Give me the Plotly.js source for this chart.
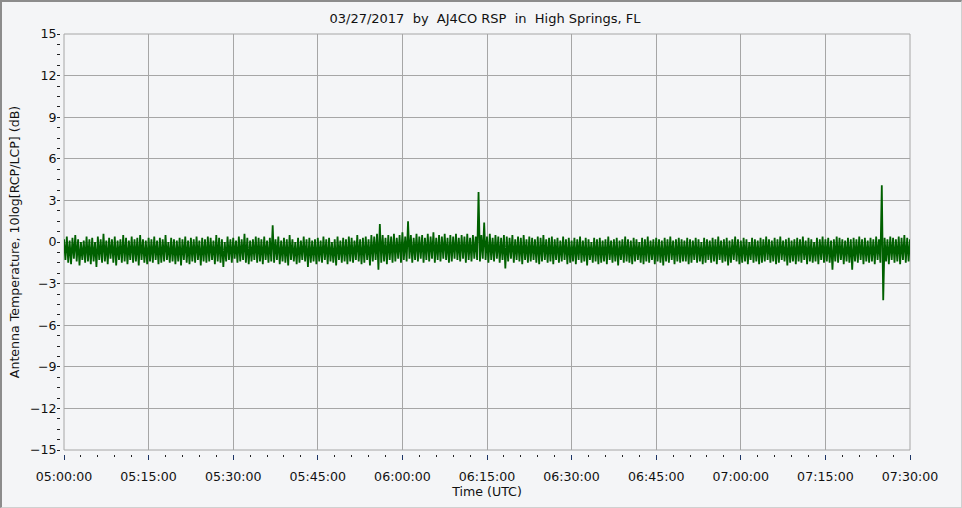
<!DOCTYPE html>
<html><head><meta charset="utf-8">
<script src="https://cdn.plot.ly/plotly-3.0.1.min.js"></script>
<style>
html,body{margin:0;padding:0;background:#f4f5f7;overflow:hidden}
#chart{width:962px;height:508px}
#frame{position:absolute;left:0;top:0;width:962px;height:508px;box-sizing:border-box;border-top:2px solid #8c8c8c;border-left:2px solid #8c8c8c;border-right:1px solid #d0d0d0;border-bottom:1px solid #d0d0d0;pointer-events:none}
</style>
</head><body><div id="chart"></div><div id="frame"></div>
<script>
// Series: antenna temperature ratio (dB), one sample every 15 s from 05:00:00 UTC
const startTime = "2017-03-27 05:00:00";
const stepSeconds = 15;
const values = [
  0.2,-1.3,0.4,-1.5,0.1,-1.6,0.3,-1.2,0.5,-1.4,0.2,-1.7,0.0,-1.3,0.1,-1.5,0.4,-1.4,0.2,-1.6,
  0.3,-1.4,0.0,-1.8,0.4,-1.3,0.2,-1.5,0.6,-1.4,0.1,-1.6,0.3,-1.2,0.2,-1.5,0.4,-1.7,0.1,-1.3,
  0.2,-1.5,0.5,-1.4,0.3,-1.6,0.1,-1.3,0.4,-1.5,0.2,-1.4,0.3,-1.7,0.5,-1.3,0.2,-1.5,0.1,-1.6,
  0.3,-1.4,0.2,-1.5,0.4,-1.3,0.1,-1.6,0.3,-1.5,0.2,-1.4,0.5,-1.3,0.0,-1.5,0.3,-1.4,0.2,-1.6,
  0.1,-1.4,0.3,-1.7,0.2,-1.3,0.4,-1.5,0.1,-1.6,0.3,-1.4,0.2,-1.5,0.4,-1.3,0.1,-1.7,0.3,-1.4,
  0.2,-1.5,0.4,-1.4,0.3,-1.3,0.1,-1.6,0.5,-1.4,0.3,-1.5,0.2,-1.8,0.0,-1.4,0.4,-1.3,0.2,-1.5,
  0.3,-1.2,0.1,-1.5,0.4,-1.4,0.2,-1.3,0.6,-1.5,0.3,-1.6,0.1,-1.4,0.2,-1.3,0.4,-1.5,0.3,-1.4,
  0.2,-1.6,0.4,-1.3,0.1,-1.5,0.3,-1.4,1.2,-1.5,0.2,-1.3,0.4,-1.6,0.1,-1.4,0.3,-1.5,0.2,-1.7,
  0.5,-1.3,0.2,-1.4,0.0,-1.6,0.3,-1.5,0.1,-1.3,0.4,-1.4,0.2,-1.8,0.3,-1.5,0.1,-1.4,0.2,-1.6,
  0.3,-1.4,0.1,-1.5,0.4,-1.3,0.2,-1.6,0.3,-1.4,0.0,-1.5,0.2,-1.7,0.4,-1.3,0.1,-1.5,0.3,-1.4,
  0.2,-1.6,0.4,-1.4,0.3,-1.5,0.1,-1.3,0.5,-1.4,0.2,-1.6,0.3,-1.5,0.4,-1.3,0.2,-1.7,0.5,-1.4,
  0.4,-1.3,0.6,-2.0,1.3,-1.5,0.5,-1.4,0.3,-1.6,0.5,-1.3,0.4,-1.5,0.6,-1.4,0.3,-1.2,0.5,-1.5,
  0.7,-1.3,0.4,-1.4,1.5,-1.2,0.5,-1.5,0.3,-1.3,0.6,-1.4,0.4,-1.2,0.5,-1.5,0.3,-1.3,0.6,-1.4,
  0.4,-1.2,0.7,-1.5,0.3,-1.3,0.5,-1.4,0.4,-1.2,0.6,-1.3,0.3,-1.5,0.5,-1.4,0.4,-1.2,0.6,-1.3,
  0.3,-1.4,0.5,-1.2,0.4,-1.5,0.6,-1.3,0.3,-1.4,0.5,-1.2,0.4,-1.3,3.6,-1.4,0.5,-1.2,1.4,-1.3,
  0.4,-1.5,0.6,-1.3,0.3,-1.4,0.5,-1.2,0.4,-1.5,0.3,-1.3,0.5,-1.9,0.4,-1.4,0.3,-1.2,0.5,-1.5,
  0.2,-1.3,0.4,-1.4,0.3,-1.6,0.5,-1.3,0.2,-1.5,0.4,-1.4,0.3,-1.3,0.2,-1.5,0.4,-1.6,0.3,-1.4,
  0.5,-1.3,0.2,-1.5,0.3,-1.4,0.4,-1.6,0.2,-1.3,0.3,-1.5,0.1,-1.4,0.4,-1.3,0.2,-1.6,0.3,-1.5,
  0.1,-1.4,0.3,-1.6,0.2,-1.3,0.4,-1.5,0.1,-1.4,0.3,-1.7,0.2,-1.3,0.0,-1.5,0.3,-1.4,0.2,-1.6,
  0.3,-1.5,0.1,-1.4,0.2,-1.6,0.4,-1.3,0.1,-1.5,0.2,-1.4,0.3,-1.7,0.1,-1.3,0.2,-1.5,0.4,-1.4,
  0.2,-1.5,0.1,-1.6,0.3,-1.4,0.2,-1.3,0.0,-1.5,0.3,-1.6,0.2,-1.4,0.4,-1.5,0.1,-1.3,0.2,-1.6,
  0.3,-1.4,0.2,-1.5,0.1,-1.7,0.3,-1.4,0.2,-1.5,0.4,-1.3,0.1,-1.6,0.2,-1.4,0.3,-1.5,0.2,-1.4,
  0.1,-1.4,0.3,-1.6,0.2,-1.5,0.1,-1.3,0.3,-1.5,0.2,-1.4,0.0,-1.6,0.3,-1.5,0.2,-1.3,0.1,-1.5,
  0.3,-1.4,0.2,-1.6,0.4,-1.3,0.1,-1.5,0.2,-1.4,0.3,-1.7,0.1,-1.5,0.2,-1.3,0.4,-1.4,0.2,-1.6,
  0.1,-1.5,0.3,-1.4,0.2,-1.6,0.0,-1.3,0.3,-1.5,0.2,-1.4,0.1,-1.6,0.3,-1.5,0.2,-1.4,0.4,-1.3,
  0.2,-1.5,0.1,-1.4,0.3,-1.6,0.2,-1.5,0.4,-1.3,0.1,-1.4,0.2,-1.7,0.3,-1.5,0.1,-1.4,0.2,-1.6,
  0.3,-1.4,0.2,-1.5,0.4,-1.3,0.1,-1.6,0.3,-1.4,0.2,-1.5,0.0,-1.4,0.3,-1.6,0.2,-1.3,0.4,-1.5,
  0.2,-1.4,0.3,-1.5,0.1,-2.0,0.2,-1.4,0.4,-1.5,0.3,-1.3,0.2,-1.6,0.1,-1.4,0.3,-1.5,0.2,-2.0,
  0.3,-1.4,0.2,-1.5,0.4,-1.3,0.2,-1.6,0.3,-1.4,0.1,-1.5,0.3,-1.4,0.2,-1.6,0.4,-1.3,0.2,-1.5,
  4.1,-4.2,0.3,-1.4,0.2,-1.6,0.4,-1.3,0.3,-1.5,0.2,-1.4,0.4,-1.6,0.3,-1.3,0.5,-1.5,0.3,-1.4,
  0.2
];
const yTickVals = [-15,-12,-9,-6,-3,0,3,6,9,12,15];
const xRange = ["2017-03-27 05:00:00","2017-03-27 07:30:00"];
const titleText = "03/27/2017\u00a0\u00a0by\u00a0\u00a0AJ4CO RSP\u00a0\u00a0in\u00a0\u00a0High Springs, FL";
const yTitle = "Antenna Temperature, 10log[RCP/LCP] (dB)";
const xTitle = "Time (UTC)";

function pad(n){return (n<10?"0":"")+n;}
const t0 = new Date(startTime.replace(" ","T")+"Z").getTime();
const times = values.map((v,i)=>{
  const d = new Date(t0 + i*stepSeconds*1000);
  return d.getUTCFullYear()+"-"+pad(d.getUTCMonth()+1)+"-"+pad(d.getUTCDate())+" "+
         pad(d.getUTCHours())+":"+pad(d.getUTCMinutes())+":"+pad(d.getUTCSeconds());
});

const W=962,H=508,L=60,R=52,T=34,B=54;
const pw=W-L-R, ph=H-T-B;
const fnt={family:"DejaVu Sans, Verdana, sans-serif",size:12.6,color:"#111"};

const trace={x:times,y:values,type:"scatter",mode:"lines",
  line:{color:"rgb(0,96,0)",width:1.8,simplify:false},hoverinfo:"skip"};

const layout={
  width:W,height:H,
  margin:{l:L,r:R,t:T,b:B,pad:0},
  paper_bgcolor:"#f4f5f7",plot_bgcolor:"#f4f5f7",
  font:fnt,showlegend:false,
  title:{text:titleText,x:0.5,xref:"paper",y:1-18/H,yref:"container",yanchor:"middle",font:{family:fnt.family,size:13,color:"#111"}},
  xaxis:{type:"date",range:xRange,domain:[4/pw,1],anchor:"free",position:0,
    dtick:900000,tick0:xRange[0],tickformat:"%H:%M:%S",
    ticks:"outside",ticklen:5,tickwidth:1,tickcolor:"#1c3566",ticklabelstandoff:6,
    showgrid:true,gridcolor:"#a6a6a6",gridwidth:1,zeroline:false,showline:false,
    minor:{dtick:180000,tick0:xRange[0],ticks:"outside",ticklen:2,tickcolor:"#222",showgrid:false},
    tickfont:fnt,
    title:{text:xTitle,font:fnt,standoff:3}},
  yaxis:{range:[-15,15],domain:[4/ph,1],anchor:"free",position:0,
    tickvals:yTickVals,ticks:"outside",ticklen:1,tickwidth:1,tickcolor:"#222",
    showgrid:true,gridcolor:"#a6a6a6",gridwidth:1,zeroline:false,showline:false,
    minor:{dtick:0.75,tick0:0,ticks:"outside",ticklen:3,tickcolor:"#222",showgrid:false},
    tickfont:fnt,
    title:{text:yTitle,font:fnt,standoff:6}},
  shapes:[{type:"rect",xref:"x domain",yref:"y domain",x0:0,x1:1,y0:0,y1:1,
    line:{color:"#a6a6a6",width:1},layer:"below"}]
};
Plotly.newPlot("chart",[trace],layout,{staticPlot:true,displayModeBar:false});
</script>
</body></html>
